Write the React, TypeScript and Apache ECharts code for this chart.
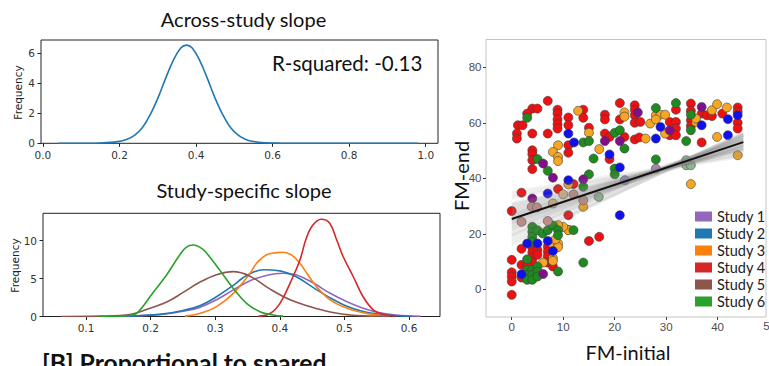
import React, { useEffect, useRef } from 'react';
import * as echarts from 'echarts';

// ---------- Across-study slope (density) ----------
const acrossX = [0.04, 0.10, 0.15, 0.18, 0.20, 0.22, 0.24, 0.26, 0.28, 0.30, 0.32, 0.34, 0.36, 0.375, 0.39, 0.41, 0.43, 0.45, 0.47, 0.49, 0.51, 0.53, 0.55, 0.58, 0.62, 0.70, 0.80, 0.98];
const acrossY = [0, 0.005, 0.02, 0.06, 0.13, 0.27, 0.55, 1.05, 1.9, 3.0, 4.3, 5.5, 6.35, 6.55, 6.35, 5.5, 4.3, 3.0, 1.9, 1.05, 0.55, 0.26, 0.12, 0.04, 0.01, 0, 0, 0];

// ---------- Study-specific slope (densities) ----------
const studyNames = ['Study 1', 'Study 2', 'Study 3', 'Study 4', 'Study 5', 'Study 6'];
const studyColors = ['#9467bd', '#1f77b4', '#ff7f0e', '#d62728', '#8c564b', '#2ca02c'];

const study1X = [0.12, 0.18, 0.22, 0.25, 0.276, 0.302, 0.328, 0.354, 0.379, 0.405, 0.426, 0.452, 0.478, 0.504, 0.529, 0.555, 0.58, 0.618];
const study1Y = [0, 0.1, 0.3, 0.7, 1.2, 2.2, 3.5, 4.7, 5.4, 5.7, 5.45, 4.4, 3.05, 1.95, 1.1, 0.5, 0.2, 0.03];
const study2X = [0.14, 0.18, 0.22, 0.25, 0.276, 0.302, 0.328, 0.343, 0.358, 0.375, 0.40, 0.426, 0.452, 0.478, 0.504, 0.529, 0.555, 0.58, 0.60];
const study2Y = [0, 0.1, 0.35, 0.8, 1.4, 2.6, 4.1, 5.1, 5.8, 6.15, 6.0, 5.2, 3.8, 2.45, 1.35, 0.65, 0.3, 0.1, 0.02];
const study3X = [0.253, 0.276, 0.302, 0.328, 0.354, 0.364, 0.379, 0.395, 0.405, 0.418, 0.431, 0.441, 0.457, 0.478, 0.504, 0.529, 0.555, 0.57];
const study3Y = [0.05, 0.4, 1.3, 3.05, 5.7, 7.0, 8.1, 8.4, 8.45, 8.1, 7.0, 5.8, 3.9, 2.2, 1.1, 0.5, 0.15, 0.03];
const study4X = [0.367, 0.385, 0.40, 0.416, 0.431, 0.441, 0.451, 0.464, 0.477, 0.488, 0.498, 0.514, 0.529, 0.545, 0.56, 0.58];
const study4Y = [0.05, 0.4, 1.7, 4.4, 7.4, 10.3, 12.0, 12.8, 12.3, 10.1, 7.9, 5.2, 2.6, 0.85, 0.3, 0.03];
const study5X = [0.062, 0.12, 0.17, 0.199, 0.225, 0.251, 0.276, 0.302, 0.328, 0.354, 0.385, 0.416, 0.447, 0.478, 0.509, 0.53, 0.57];
const study5Y = [0, 0.05, 0.3, 1.1, 1.9, 3.2, 4.5, 5.5, 5.9, 5.3, 3.6, 2.2, 1.3, 0.6, 0.2, 0.08, 0.01];
const study6X = [0.12, 0.173, 0.185, 0.199, 0.225, 0.245, 0.255, 0.266, 0.28, 0.291, 0.307, 0.328, 0.349, 0.37, 0.39, 0.405];
const study6Y = [0, 0.2, 1.0, 2.6, 5.5, 8.1, 9.1, 9.4, 8.9, 7.9, 6.1, 3.7, 1.7, 0.6, 0.2, 0.05];

const studyXs = [study1X, study2X, study3X, study4X, study5X, study6X];
const studyYs = [study1Y, study2Y, study3Y, study4Y, study5Y, study6Y];

// ---------- Scatter: FM-initial vs FM-end ----------
const redPts = [
  [7.0, 67.9], [4.0, 65.1], [5.0, 65.1], [3.0, 63.3], [1.2, 59.1], [2.1, 59.1], [1.0, 56.1], [1.0, 54.3], [4.0, 56.1], [7.0, 56.1],
  [8.9, 64.7], [8.9, 63.3], [8.9, 61.2], [8.9, 59.5], [8.9, 57.9], [11.0, 61.9], [11.0, 59.1], [11.0, 51.9], [11.0, 49.2],
  [13.9, 64.7], [13.9, 61.8], [15.0, 58.2], [4.0, 50.1], [4.0, 48.7], [4.0, 46.5], [4.0, 43.3],
  [18.1, 62.9], [18.1, 61.2], [18.1, 56.1], [19.0, 54.9], [19.0, 46.9], [21.0, 67.1], [21.0, 61.2], [21.9, 54.9],
  [12.0, 37.9], [9.0, 36.1], [1.9, 34.8], [0, 28.2], [11.0, 26.7], [11.0, 21.4], [15.0, 17.4], [17.0, 18.9],
  [4, 16], [4, 15], [4, 13.3], [4, 11.4], [4, 9.7], [5, 14.1], [5, 12.4], [1.9, 14.6], [7, 15.3], [7, 13.5], [7, 11.8], [7, 9.6], [8, 8.2],
  [0, 10.6], [1.9, 8.8], [1.9, 4.2], [0, 6.1], [0, 4.6], [0, 2.8], [0, -2], [3, 8.8],
  [23.9, 66.3], [23.9, 64.7], [23.9, 62.7], [23.9, 60], [25, 60.3], [23.9, 54], [24.8, 54.7],
  [30.7, 60.3], [31.9, 60.3], [31.9, 57.9], [30.7, 55.5], [31.9, 55.5], [31.9, 64.7],
  [34.8, 66.9], [34.8, 64.3], [34.8, 60.9], [34.8, 58.8], [36.9, 63.3], [37.9, 62.7], [38.9, 62.4], [36.9, 52.9], [40.9, 63.3],
  [43.9, 65.5], [43.9, 64], [43.9, 60], [43.9, 57.9],
];
const orangePts = [
  [12.9, 64.3], [15, 56.4], [9, 51.9], [8, 49.5], [9, 47.7], [9, 46.2], [17, 50.5], [21.9, 63.7], [21.9, 62.2], [11, 37.8], [13.9, 29.7],
  [11, 21.3], [10, 22.5], [9, 23.1], [8, 16.2], [9, 16.5], [9, 15.2], [8.5, 18], [8, 11.2], [6.1, 9.6], [8, 10.2],
  [26, 54.3], [28, 62.7], [28.9, 62.9], [29.8, 62.9], [26.9, 59.7], [28, 61.2], [29.8, 56.1], [35.8, 60.3], [35.8, 61.5],
  [38.9, 64.5], [39.9, 66.7], [39.9, 54.9], [34.8, 37.9], [41.8, 65.5], [43.9, 48.3],
];
const greenPts = [
  [3, 61.8], [5, 46.9], [7, 42.7], [13.9, 52.9], [15, 53.4], [15.9, 47.1], [20, 56.4], [21, 57.3], [21.9, 50.7], [20, 43.5], [20, 41.4], [15, 41.4], [13.9, 36.9],
  [13.9, 9.6], [12, 21.3], [4, 22.5], [4, 20.7], [4, 18.9], [4, 17.1], [5, 21.3], [6, 20.1], [7, 21.3], [8, 23], [9, 21.3], [9, 19.5], [9, 6.4],
  [3, 10.8], [3, 7], [3, 5.2], [3, 3.4], [4, 7], [4, 5.2], [4, 3.4], [5, 8.2], [5, 6.4], [5, 4.6],
  [28, 65.3], [31.9, 67.1], [34.8, 62.9], [34.8, 57.3], [33.9, 53.4], [28, 46.8],
];
const bluePts = [
  [11, 56.1], [12.1, 52.9], [19, 48.6], [21, 43.9], [11, 39.3], [7, 34.5], [21, 26.7], [3, 16.5], [5, 16.5], [7, 17.4], [8, 13.8], [1.9, 5.4],
  [28.9, 58.5], [28, 54.3], [36.9, 59.1], [43.9, 62.7], [42, 61.3], [42, 55.5],
];
const purplePts = [
  [6.1, 45.3], [8, 40.2], [18.1, 53.4], [21, 53.4], [13.9, 39.6], [4, 32.7], [24.5, 63.7], [30.7, 57.3], [36.9, 65.7], [6.1, 5.5],
];
const fadedRedPts = [[3.9, 29.7], [4.9, 29.5], [1.9, 24.3], [7, 24.6], [12, 34.2], [13.9, 32.1]];
const fadedOrangePts = [[10, 34.2], [8, 30.9]];
const fadedGreenPts = [[16.9, 33.3], [33.9, 44.7], [34.8, 44.7], [33.9, 46.5]];
const fadedPurplePts = [[28, 43.5]];
const fadedBluePts = [[22, 39.3]];

const pointGroups = [
  { pts: redPts, color: '#ee1111' },
  { pts: orangePts, color: '#f5a623' },
  { pts: greenPts, color: '#1f8a1f' },
  { pts: bluePts, color: '#1010ee' },
  { pts: purplePts, color: '#80108a' },
  { pts: fadedRedPts, color: '#cf8f86' },
  { pts: fadedOrangePts, color: '#dfbd86' },
  { pts: fadedGreenPts, color: '#8dbb8d' },
  { pts: fadedPurplePts, color: '#a68ab0' },
  { pts: fadedBluePts, color: '#8c8cd8' },
];

// Regression fit and posterior sample lines (y at FM-initial = 0 and 45)
const fitX = [0, 45];
const fitY = [25.3, 53];
const bandStart = [25, 24, 26, 23, 27, 22, 28, 21, 29, 20, 30, 19, 31, 18, 33, 25.5, 24.5, 26.5, 23.5, 27.5, 22.5, 28.5, 21.5, 29.5, 17, 35, 25, 26, 24, 27, 16, 34, 19.5, 30.5];
const bandEnd = [53, 54, 52.5, 54.5, 52, 55, 51.5, 55.5, 51, 56, 50.5, 56, 50, 55, 49, 52.5, 53.5, 52, 54, 51.5, 54, 51, 55, 50.5, 55.5, 48.5, 54, 51, 52, 53.5, 56.5, 48, 55.5, 50];

const densityTicks = [0, 0.2, 0.4, 0.6, 0.8, 1.0];
const densityYTicks = [0, 2, 4, 6];
const studyXTicks = [0.1, 0.2, 0.3, 0.4, 0.5, 0.6];
const studyYTicks = [0, 5, 10];
const scatterXTicks = [0, 10, 20, 30, 40];
const scatterYTicks = [0, 20, 40, 60, 80];

const MPL_FONT = 'DejaVu Sans';
const TITLE_FONT = 'Lato';

function mplX(gridIndex: number, min: number, max: number, ticks: number[]) {
  return {
    gridIndex, type: 'value', min, max,
    axisLine: { show: false, onZero: false },
    splitLine: { show: false },
    axisTick: { show: true, length: 3.5, lineStyle: { color: '#222', width: 1 }, customValues: ticks },
    axisLabel: { customValues: ticks, formatter: (v: number) => v.toFixed(1), fontFamily: MPL_FONT, fontSize: 10.5, color: '#333', margin: 6 },
  };
}
function mplY(gridIndex: number, min: number, max: number, ticks: number[]) {
  return {
    gridIndex, type: 'value', min, max,
    axisLine: { show: false, onZero: false },
    splitLine: { show: false },
    axisTick: { show: true, length: 3.5, lineStyle: { color: '#222', width: 1 }, customValues: ticks },
    axisLabel: { customValues: ticks, formatter: (v: number) => String(v), fontFamily: MPL_FONT, fontSize: 10.5, color: '#333', margin: 6 },
  };
}

export default function App() {
  const ref = useRef<HTMLDivElement>(null);
  useEffect(() => {
    if (!ref.current) return;
    const chart = echarts.init(ref.current, null, { renderer: 'svg' });

    const series: any[] = [];
    series.push({
      type: 'line', name: 'Across', xAxisIndex: 0, yAxisIndex: 0,
      data: acrossX.map((x, i) => [x, acrossY[i]]),
      smooth: 0.4, showSymbol: false, symbol: 'none',
      lineStyle: { color: '#1f77b4', width: 1.6 }, itemStyle: { color: '#1f77b4' },
    });
    studyNames.forEach((name, k) => {
      series.push({
        type: 'line', name, xAxisIndex: 1, yAxisIndex: 1,
        data: studyXs[k].map((x, i) => [x, studyYs[k][i]]),
        smooth: 0.4, showSymbol: false, symbol: 'none',
        lineStyle: { color: studyColors[k], width: 1.6 }, itemStyle: { color: studyColors[k] },
      });
    });
    pointGroups.forEach((g, k) => {
      series.push({
        type: 'scatter', name: 'pts' + k, xAxisIndex: 2, yAxisIndex: 2,
        data: g.pts, symbolSize: 9, z: 2, silent: true,
        itemStyle: { color: g.color, borderColor: '#3c3c3c', borderWidth: 0.6, opacity: 1 },
      });
    });
    bandStart.forEach((s, i) => {
      series.push({
        type: 'line', name: 'band' + i, xAxisIndex: 2, yAxisIndex: 2,
        data: [[fitX[0], s], [fitX[1], bandEnd[i]]],
        showSymbol: false, symbol: 'none', silent: true, z: 3,
        lineStyle: { color: '#8a8a8a', width: 3, opacity: 0.13 },
      });
    });
    series.push({
      type: 'line', name: 'fit', xAxisIndex: 2, yAxisIndex: 2,
      data: fitX.map((x, i) => [x, fitY[i]]),
      showSymbol: false, symbol: 'none', silent: true, z: 4,
      lineStyle: { color: '#111', width: 2 },
    });

    const text = (t: string, x: number, y: number, size: number, opts: any = {}) => ({
      type: 'text', x, y, rotation: opts.rotation || 0, silent: true,
      style: {
        text: t, fontFamily: opts.font || TITLE_FONT, fontSize: size, fontWeight: opts.weight || 'normal',
        fill: opts.color || '#111', align: opts.align || 'center', textAlign: opts.align || 'center',
        verticalAlign: 'middle', textVerticalAlign: 'middle',
      },
    });

    chart.setOption({
      animation: false,
      legend: {
        data: studyNames, orient: 'vertical', left: 690, top: 203, icon: 'rect',
        itemWidth: 17, itemHeight: 10, itemGap: 0,
        textStyle: { fontFamily: TITLE_FONT, fontSize: 14.5, color: '#222', lineHeight: 17 },
        selectedMode: false,
      },
      grid: [
        { left: 41, top: 40, width: 397, height: 103.3, show: true, borderColor: '#222', borderWidth: 1, backgroundColor: 'transparent' },
        { left: 43, top: 213.3, width: 397, height: 103.2, show: true, borderColor: '#222', borderWidth: 1, backgroundColor: 'transparent' },
        { left: 486, top: 39.5, width: 280, height: 277.5, show: true, borderColor: '#c4c4c4', borderWidth: 1, backgroundColor: 'transparent' },
      ],
      xAxis: [
        mplX(0, -0.005, 1.032, densityTicks),
        mplX(1, 0.0334, 0.648, studyXTicks),
        {
          gridIndex: 2, type: 'value', min: -5, max: 49.4,
          axisLine: { show: false, onZero: false }, splitLine: { show: false },
          axisTick: { show: true, length: 3, lineStyle: { color: '#444' }, customValues: scatterXTicks },
          axisLabel: { customValues: scatterXTicks, fontFamily: 'Liberation Sans', fontSize: 11.5, color: '#4d4d4d', margin: 4 },
        },
      ],
      yAxis: [
        mplY(0, 0, 6.89, densityYTicks),
        mplY(1, 0, 13.58, studyYTicks),
        {
          gridIndex: 2, type: 'value', min: -10, max: 90,
          axisLine: { show: false, onZero: false }, splitLine: { show: false },
          axisTick: { show: true, length: 3, lineStyle: { color: '#444' }, customValues: scatterYTicks },
          axisLabel: { customValues: scatterYTicks, fontFamily: 'Liberation Sans', fontSize: 11.5, color: '#4d4d4d', margin: 4.5 },
        },
      ],
      series,
      graphic: [
        text('Across-study slope', 243.5, 18.5, 20),
        text('R-squared: -0.13', 272, 63, 20.5, { align: 'left' }),
        text('Study-specific slope', 244, 190, 20),
        text('Frequency', 18.3, 92.5, 10.5, { font: MPL_FONT, rotation: Math.PI / 2, color: '#222' }),
        text('Frequency', 14.5, 265.5, 10.5, { font: MPL_FONT, rotation: Math.PI / 2, color: '#222' }),
        text('[B] Proportional to spared', 42, 362, 24.7, { align: 'left', weight: 'bold' }),
        text('FM-end', 461, 176, 20, { rotation: Math.PI / 2 }),
        text('FM-initial', 628, 352, 20),
        text('50', 769.7, 325.7, 11.5, { font: 'Liberation Sans', color: '#4d4d4d' }),
      ],
    });
    return () => chart.dispose();
  }, []);
  return <div ref={ref} style={{ position: 'absolute', left: 0, top: 0, width: 769, height: 366, background: '#fff' }} />;
}
